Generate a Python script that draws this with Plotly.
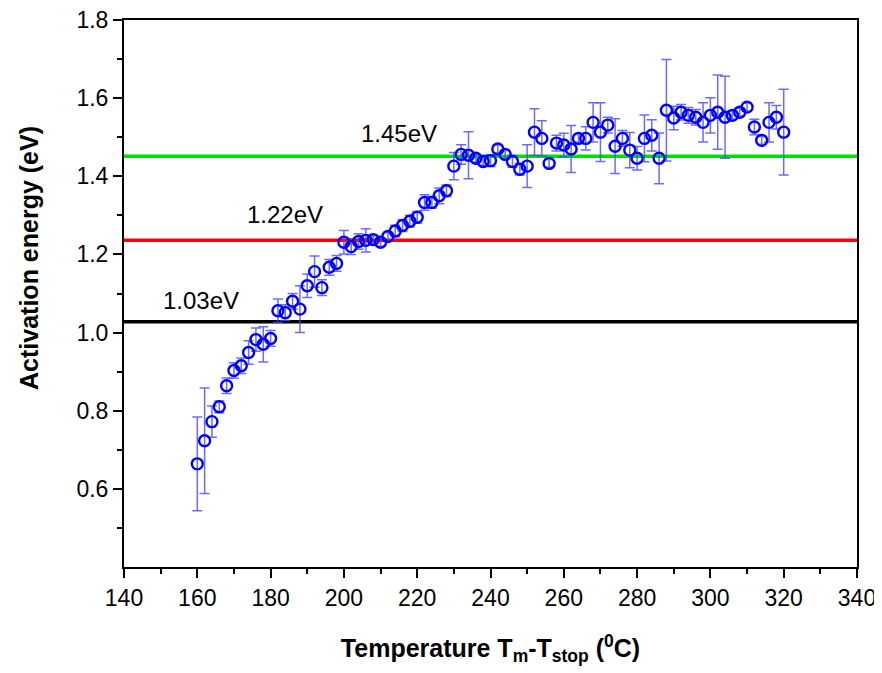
import plotly.graph_objects as go

temperature = list(range(160, 322, 2))
energy = [0.664, 0.723, 0.772, 0.81, 0.864, 0.903, 0.915, 0.949, 0.982, 0.97,
          0.985, 1.056, 1.051, 1.08, 1.06, 1.12, 1.156, 1.115, 1.167, 1.177,
          1.231, 1.22, 1.233, 1.236, 1.238, 1.231, 1.246, 1.26, 1.274, 1.285,
          1.295, 1.333, 1.333, 1.35, 1.363, 1.426, 1.456, 1.454, 1.446, 1.438,
          1.44, 1.47, 1.456, 1.438, 1.418, 1.426, 1.513, 1.497, 1.433, 1.485,
          1.48, 1.47, 1.497, 1.497, 1.538, 1.513, 1.531, 1.477, 1.497, 1.467,
          1.446, 1.497, 1.505, 1.446, 1.569, 1.549, 1.564, 1.556, 1.551, 1.538,
          1.556, 1.564, 1.551, 1.556, 1.564, 1.577, 1.526, 1.492, 1.538, 1.551,
          1.513]
error = [0.12, 0.135, 0.04, 0.015, 0.02, 0.02, 0.02, 0.03, 0.03, 0.045,
         0.02, 0.03, 0.02, 0.02, 0.06, 0.03, 0.04, 0.02, 0.02, 0.02,
         0.03, 0.02, 0.02, 0.03, 0.01, 0.01, 0.01, 0.015, 0.015, 0.015,
         0.015, 0.02, 0.015, 0.02, 0.015, 0.035, 0.025, 0.06, 0.01, 0.01,
         0.015, 0.01, 0.01, 0.015, 0.015, 0.055, 0.06, 0.045, 0.01, 0.02,
         0.03, 0.06, 0.01, 0.03, 0.05, 0.075, 0.02, 0.07, 0.02, 0.045,
         0.03, 0.06, 0.04, 0.065, 0.13, 0.03, 0.02, 0.02, 0.02, 0.05,
         0.045, 0.095, 0.105, 0.01, 0.01, 0.01, 0.02, 0.01, 0.05, 0.03,
         0.11]

levels = [1.028, 1.236, 1.451]
level_colors = ["#000000", "#ff0000", "#00e000"]
level_labels = ["1.03eV", "1.22eV", "1.45eV"]
label_x = [161, 184, 215]
label_y = [1.082, 1.302, 1.51]

fig = go.Figure()
for lv, col in zip(levels, level_colors):
    fig.add_trace(go.Scatter(x=[140, 340], y=[lv, lv], mode="lines",
                             line=dict(color=col, width=3.5), showlegend=False,
                             hoverinfo="skip"))

fig.add_trace(go.Scatter(
    x=temperature, y=energy, mode="markers",
    marker=dict(symbol="circle-open", size=11, color="#0000ff",
                line=dict(width=2.4, color="#0000ff")),
    error_y=dict(type="data", array=error, visible=True,
                 color="rgba(70,70,255,0.8)", thickness=1.5, width=5),
    showlegend=False))

for t, xx, yy in zip(level_labels, label_x, label_y):
    fig.add_annotation(x=xx, y=yy, text=t, showarrow=False,
                       font=dict(family="Liberation Sans, Arial", size=24, color="#000"))

# y-axis title (placed slightly above the plot centre, as in the reference)
fig.add_annotation(xref="paper", yref="paper", x=0, y=0.565, xshift=-95,
                   xanchor="center", yanchor="middle", textangle=-90,
                   text="<b>Activation energy (eV)</b>", showarrow=False,
                   font=dict(family="Liberation Sans, Arial", size=25, color="#000"))

fig.update_layout(
    width=882, height=673,
    margin=dict(l=116, r=33, t=12, b=114, autoexpand=False),
    plot_bgcolor="white", paper_bgcolor="white",
    font=dict(family="Liberation Sans, Arial", size=23, color="#000"),
)
fig.update_xaxes(
    range=[140, 340], tickvals=list(range(140, 341, 20)),
    tickfont=dict(size=23), ticklabeloverflow="allow", automargin=False,
    ticks="outside", ticklen=9, tickwidth=2, tickcolor="#000",
    showline=True, linewidth=2, linecolor="#000", mirror=True,
    showgrid=False, zeroline=False,
    minor=dict(tickvals=list(range(150, 340, 20)), ticks="outside", ticklen=5,
               tickwidth=2, tickcolor="#000", showgrid=False),
    title=dict(text="<b>Temperature T<sub>m</sub>-T<sub>stop</sub> (<sup>0</sup>C)</b>",
               font=dict(size=25), standoff=30),
)
fig.update_yaxes(
    range=[0.4, 1.8], tickvals=[0.6, 0.8, 1.0, 1.2, 1.4, 1.6, 1.8],
    ticktext=["0.6", "0.8", "1.0", "1.2", "1.4", "1.6", "1.8"],
    tickfont=dict(size=23), ticklabeloverflow="allow", automargin=False,
    ticks="outside", ticklen=9, tickwidth=2, tickcolor="#000",
    showline=True, linewidth=2, linecolor="#000", mirror=True,
    showgrid=False, zeroline=False,
    minor=dict(tickvals=[0.5, 0.7, 0.9, 1.1, 1.3, 1.5, 1.7], ticks="outside",
               ticklen=5, tickwidth=2, tickcolor="#000", showgrid=False),
)
fig.write_html("out.html")
